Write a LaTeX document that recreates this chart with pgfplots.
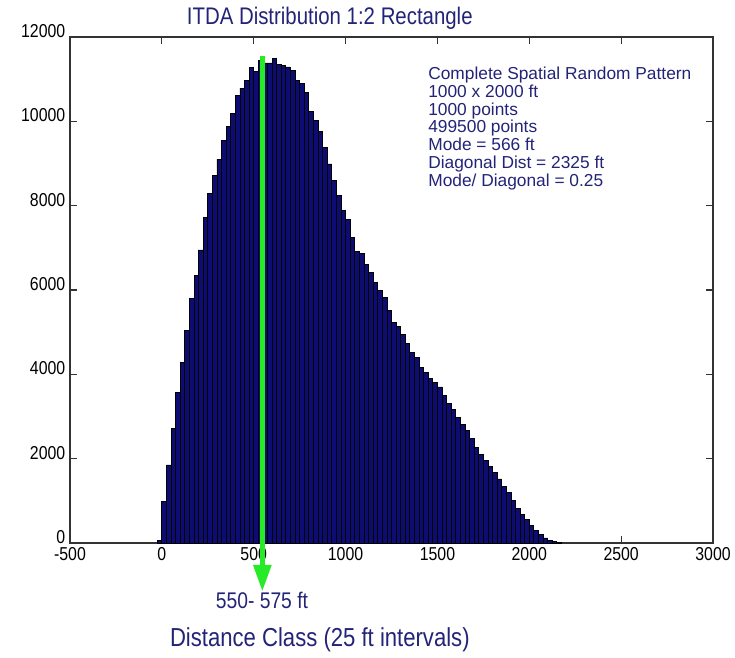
\documentclass[border=0pt]{standalone}
\usepackage{fontspec}
\setmainfont{Liberation Sans}[FakeStretch=0.85]
\newfontfamily\notefont{Liberation Sans}
\usepackage{pgfplots}
\pgfplotsset{compat=1.18}
\usetikzlibrary{arrows.meta}
\definecolor{barblue}{RGB}{12,12,115}
\definecolor{txtblue}{RGB}{35,35,120}
\definecolor{arrowgreen}{RGB}{40,235,40}

\begin{document}
\begin{tikzpicture}
\begin{axis}[
  name=ax,
  scale only axis,
  width=482.25pt, height=379.5pt,
  xmin=-500, xmax=3000, ymin=0, ymax=12000,
  xtick={-500,0,500,1000,1500,2000,2500,3000},
  ytick={0,2000,4000,6000,8000,10000,12000},
  scaled ticks=false,
  /pgf/number format/assume math mode=true,
  /pgf/number format/set thousands separator={},
  tick align=inside,
  major tick length=5pt,
  tick style={black!80, line width=0.8pt},
  tick label style={font=\fontsize{14}{15}\selectfont},
  yticklabel style={yshift=4.5pt},
  axis line style={black!80, line width=1pt},
  clip=false,
]
\addplot[ybar, bar width=25, fill=barblue, draw=black, line width=0.6pt] coordinates {
(-12.5,70) (12.5,980) (37.5,1850) (62.5,2720) (87.5,3565) (112.5,4276)
(137.5,5050) (162.5,5800) (187.5,6355) (212.5,6950) (237.5,7715) (262.5,8290)
(287.5,8710) (312.5,9105) (337.5,9555) (362.5,9870) (387.5,10180) (412.5,10615)
(437.5,10790) (462.5,10970) (487.5,11275) (512.5,11175) (537.5,11450) (562.5,11385)
(587.5,11385) (612.5,11485) (637.5,11355) (662.5,11315) (687.5,11290) (712.5,11200)
(737.5,10980) (762.5,10900) (787.5,10685) (812.5,10238) (837.5,10031) (862.5,9757)
(887.5,9387) (912.5,8989) (937.5,8607) (962.5,8233) (987.5,7890) (1012.5,7672)
(1037.5,7245) (1062.5,6920) (1087.5,6875) (1112.5,6614) (1137.5,6411) (1162.5,6182)
(1187.5,5993) (1212.5,5813) (1237.5,5524) (1262.5,5227) (1287.5,5130) (1312.5,4943)
(1337.5,4728) (1362.5,4513) (1387.5,4397) (1412.5,4164) (1437.5,4049) (1462.5,3905)
(1487.5,3804) (1512.5,3701) (1537.5,3508) (1562.5,3310) (1587.5,3161) (1612.5,2975)
(1637.5,2820) (1662.5,2660) (1687.5,2480) (1712.5,2260) (1737.5,2100) (1762.5,1960)
(1787.5,1810) (1812.5,1670) (1837.5,1520) (1862.5,1340) (1887.5,1190) (1912.5,1000)
(1937.5,830) (1962.5,680) (1987.5,550) (2012.5,410) (2037.5,300) (2062.5,200)
(2087.5,120) (2112.5,65) (2137.5,30) (2162.5,12)
};
% green marker of the modal class
\draw[arrowgreen, line width=3.75pt, -{Triangle[width=13pt,length=20pt]}]
  (axis cs:547,11556) -- (axis cs:547,-1150);
\node[txtblue, font=\fontsize{17}{18}\selectfont] at (axis cs:545,-1352) {550- 575 ft};
\node[txtblue, font=\fontsize{19.5}{20}\selectfont] at (axis cs:860,-2300) {Distance Class (25 ft intervals)};
\node[txtblue, font=\fontsize{18}{20}\selectfont] at (rel axis cs:0.404,1) [yshift=14.25pt] {ITDA Distribution 1:2 Rectangle};
\node[txtblue, anchor=north west, inner sep=0pt, align=left,
      font=\notefont\fontsize{13}{13.3}\selectfont] at (axis cs:1449,11290)
  {Complete Spatial Random Pattern\\ 1000 x 2000 ft\\ 1000 points\\ 499500 points\\
   Mode = 566 ft\\ Diagonal Dist = 2325 ft\\ Mode/ Diagonal = 0.25};
\end{axis}
\pgfresetboundingbox
\path[use as bounding box] ([shift={(-52.5pt,-85.5pt)}]ax.south west) rectangle ([shift={(16.5pt,27.75pt)}]ax.north east);
\end{tikzpicture}
\end{document}
